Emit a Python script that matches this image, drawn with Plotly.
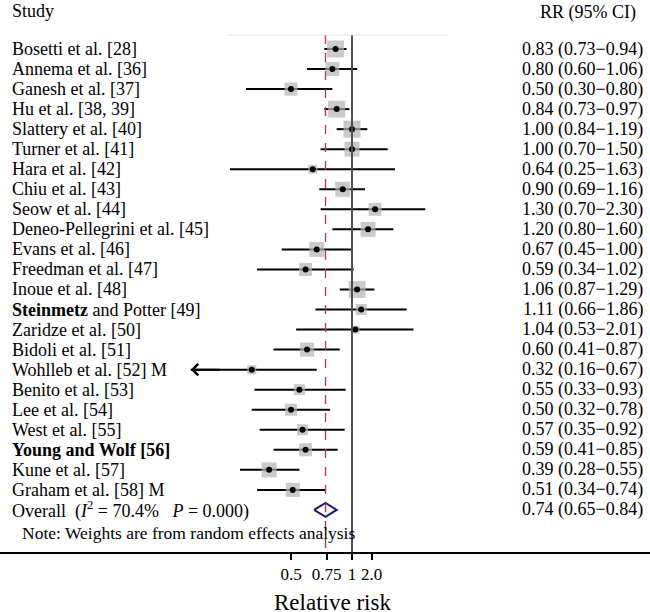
import math
import plotly.graph_objects as go

studies = [
    "Bosetti et al. [28]", "Annema et al. [36]", "Ganesh et al. [37]", "Hu et al. [38, 39]",
    "Slattery et al. [40]", "Turner et al. [41]", "Hara et al. [42]", "Chiu et al. [43]",
    "Seow et al. [44]", "Deneo-Pellegrini et al. [45]", "Evans et al. [46]", "Freedman et al. [47]",
    "Inoue et al. [48]", "<b>Steinmetz</b> and Potter [49]", "Zaridze et al. [50]", "Bidoli et al. [51]",
    "Wohlleb et al. [52] M", "Benito et al. [53]", "Lee et al. [54]", "West et al. [55]",
    "<b>Young and Wolf [56]</b>", "Kune et al. [57]", "Graham et al. [58] M",
]
rr = [0.83, 0.80, 0.50, 0.84, 1.00, 1.00, 0.64, 0.90, 1.30, 1.20, 0.67, 0.59,
      1.06, 1.11, 1.04, 0.60, 0.32, 0.55, 0.50, 0.57, 0.59, 0.39, 0.51]
lo = [0.73, 0.60, 0.30, 0.73, 0.84, 0.70, 0.25, 0.69, 0.70, 0.80, 0.45, 0.34,
      0.87, 0.66, 0.53, 0.41, 0.16, 0.33, 0.32, 0.35, 0.41, 0.28, 0.34]
hi = [0.94, 1.06, 0.80, 0.97, 1.19, 1.50, 1.63, 1.16, 2.30, 1.60, 1.00, 1.02,
      1.29, 1.86, 2.01, 0.87, 0.67, 0.93, 0.78, 0.92, 0.85, 0.55, 0.74]
# relative weights (box size)
weights = [16, 13, 12, 16, 16, 14, 8, 14, 12, 14, 14, 12,
           16, 10, 7, 13, 8, 10, 11, 10, 12, 14, 13]

overall_label = "Overall  (<i>I</i><sup>2</sup> = 70.4%   <i>P</i> = 0.000)"
overall_rr, overall_lo, overall_hi = 0.74, 0.65, 0.84
arrow_rows = [16]  # CI truncated with arrow

tick_vals = [0.5, 0.75, 1, 1.25]
tick_text = ["0.5", "0.75", "1", "2.0"]

FONT = "Liberation Serif, Times New Roman, serif"
FS = 18
W, H = 650, 612
AXIS_PX = 552
ROW0_PX, ROW_STEP = 49, 20.04

n = len(studies)
rows = list(range(n))
overall_row = n

fig = go.Figure()

# CI lines
cx, cy = [], []
for i in rows:
    cx += [lo[i], hi[i], None]
    cy += [i, i, None]
fig.add_trace(go.Scatter(x=cx, y=cy, mode="lines", line=dict(color="black", width=2),
                         hoverinfo="skip", showlegend=False))

# weight boxes
fig.add_trace(go.Scatter(x=rr, y=rows, mode="markers",
                         marker=dict(symbol="square", size=[w + 1 for w in weights],
                                     color="#b3b3b3", line=dict(width=0)),
                         showlegend=False, hoverinfo="skip"))
# point estimates
fig.add_trace(go.Scatter(x=rr, y=rows, mode="markers",
                         marker=dict(symbol="circle", size=6, color="black"),
                         showlegend=False))

# overall diamond
dh = 0.35
fig.add_trace(go.Scatter(
    x=[overall_lo, overall_rr, overall_hi, overall_rr, overall_lo],
    y=[overall_row, overall_row - dh, overall_row, overall_row + dh, overall_row],
    mode="lines", fill="toself", fillcolor="white",
    line=dict(color="#1c1c6b", width=2), showlegend=False, hoverinfo="skip"))

# arrows for truncated CI
for i in arrow_rows:
    fig.add_annotation(x=math.log10(lo[i]), y=i, ax=math.log10(rr[i]) - 0.15, ay=i,
                       xref="x", yref="y", axref="x", ayref="y", text="",
                       showarrow=True, arrowhead=4, arrowsize=1.1, arrowwidth=2,
                       arrowcolor="black")

top_row = (35 - ROW0_PX) / ROW_STEP
bot_row = (AXIS_PX - ROW0_PX) / ROW_STEP

# null line and overall line
fig.add_shape(type="line", xref="x", yref="y", x0=1, x1=1, y0=top_row, y1=bot_row,
              line=dict(color="#505050", width=2))
fig.add_shape(type="line", xref="x", yref="y", x0=overall_rr, x1=overall_rr,
              y0=top_row, y1=bot_row, line=dict(color="#b03a48", width=1.3, dash="dash"))
# faint top line
fig.add_shape(type="line", xref="paper", yref="y", x0=227 / W, x1=448 / W,
              y0=top_row, y1=top_row, line=dict(color="#e6e6e6", width=1))

# labels
for i in rows:
    fig.add_annotation(x=10 / W, y=i, xref="paper", yref="y", text=studies[i],
                       xanchor="left", yanchor="middle", showarrow=False,
                       font=dict(family=FONT, size=FS, color="black"))
    fig.add_annotation(x=645 / W, y=i, xref="paper", yref="y",
                       text=f"{rr[i]:.2f} ({lo[i]:.2f}\u2212{hi[i]:.2f})",
                       xanchor="right", yanchor="middle", showarrow=False,
                       font=dict(family=FONT, size=FS, color="black"))
fig.add_annotation(x=10 / W, y=overall_row, xref="paper", yref="y", text=overall_label,
                   xanchor="left", yanchor="middle", showarrow=False,
                   font=dict(family=FONT, size=FS, color="black"))
fig.add_annotation(x=645 / W, y=overall_row, xref="paper", yref="y",
                   text=f"{overall_rr:.2f} ({overall_lo:.2f}\u2212{overall_hi:.2f})",
                   xanchor="right", yanchor="middle", showarrow=False,
                   font=dict(family=FONT, size=FS, color="black"))

# headers and note
fig.add_annotation(x=10 / W, y=1 - 11 / H, xref="paper", yref="paper", text="Study",
                   xanchor="left", yanchor="middle", showarrow=False,
                   font=dict(family=FONT, size=FS, color="black"))
fig.add_annotation(x=638 / W, y=1 - 12 / H, xref="paper", yref="paper", text="RR (95% CI)",
                   xanchor="right", yanchor="middle", showarrow=False,
                   font=dict(family=FONT, size=FS, color="black"))
fig.add_annotation(x=20 / W, y=1 - 533 / H, xref="paper", yref="paper",
                   text="Note: Weights are from random effects analysis",
                   xanchor="left", yanchor="middle", showarrow=False,
                   font=dict(family=FONT, size=17.5, color="black"))
fig.add_annotation(x=332 / W, y=1 - 602 / H, xref="paper", yref="paper", text="Relative risk",
                   xanchor="center", yanchor="middle", showarrow=False,
                   font=dict(family=FONT, size=23, color="black"))

x_px1 = 352
ppd = 88 * math.log(10)
xr = [(0 - x_px1) / ppd, (W - x_px1) / ppd]

fig.update_layout(
    width=W, height=H, margin=dict(l=0, r=0, t=0, b=0),
    paper_bgcolor="white", plot_bgcolor="white",
    xaxis=dict(type="log", range=xr, domain=[0, 1], tickvals=tick_vals, ticktext=tick_text,
               ticks="outside", ticklen=6, tickwidth=1.5, tickcolor="black",
               showline=True, linecolor="black", linewidth=1.5, showgrid=False,
               zeroline=False, tickfont=dict(family=FONT, size=17, color="black")),
    yaxis=dict(range=[bot_row, -ROW0_PX / ROW_STEP], domain=[1 - AXIS_PX / H, 1],
               showticklabels=False, showgrid=False, zeroline=False, showline=False,
               ticks=""),
    showlegend=False,
)

fig.write_html("out.html", config={"displayModeBar": False},
               post_script="document.body.style.margin='0';"
                           "document.documentElement.style.overflow='hidden';")
